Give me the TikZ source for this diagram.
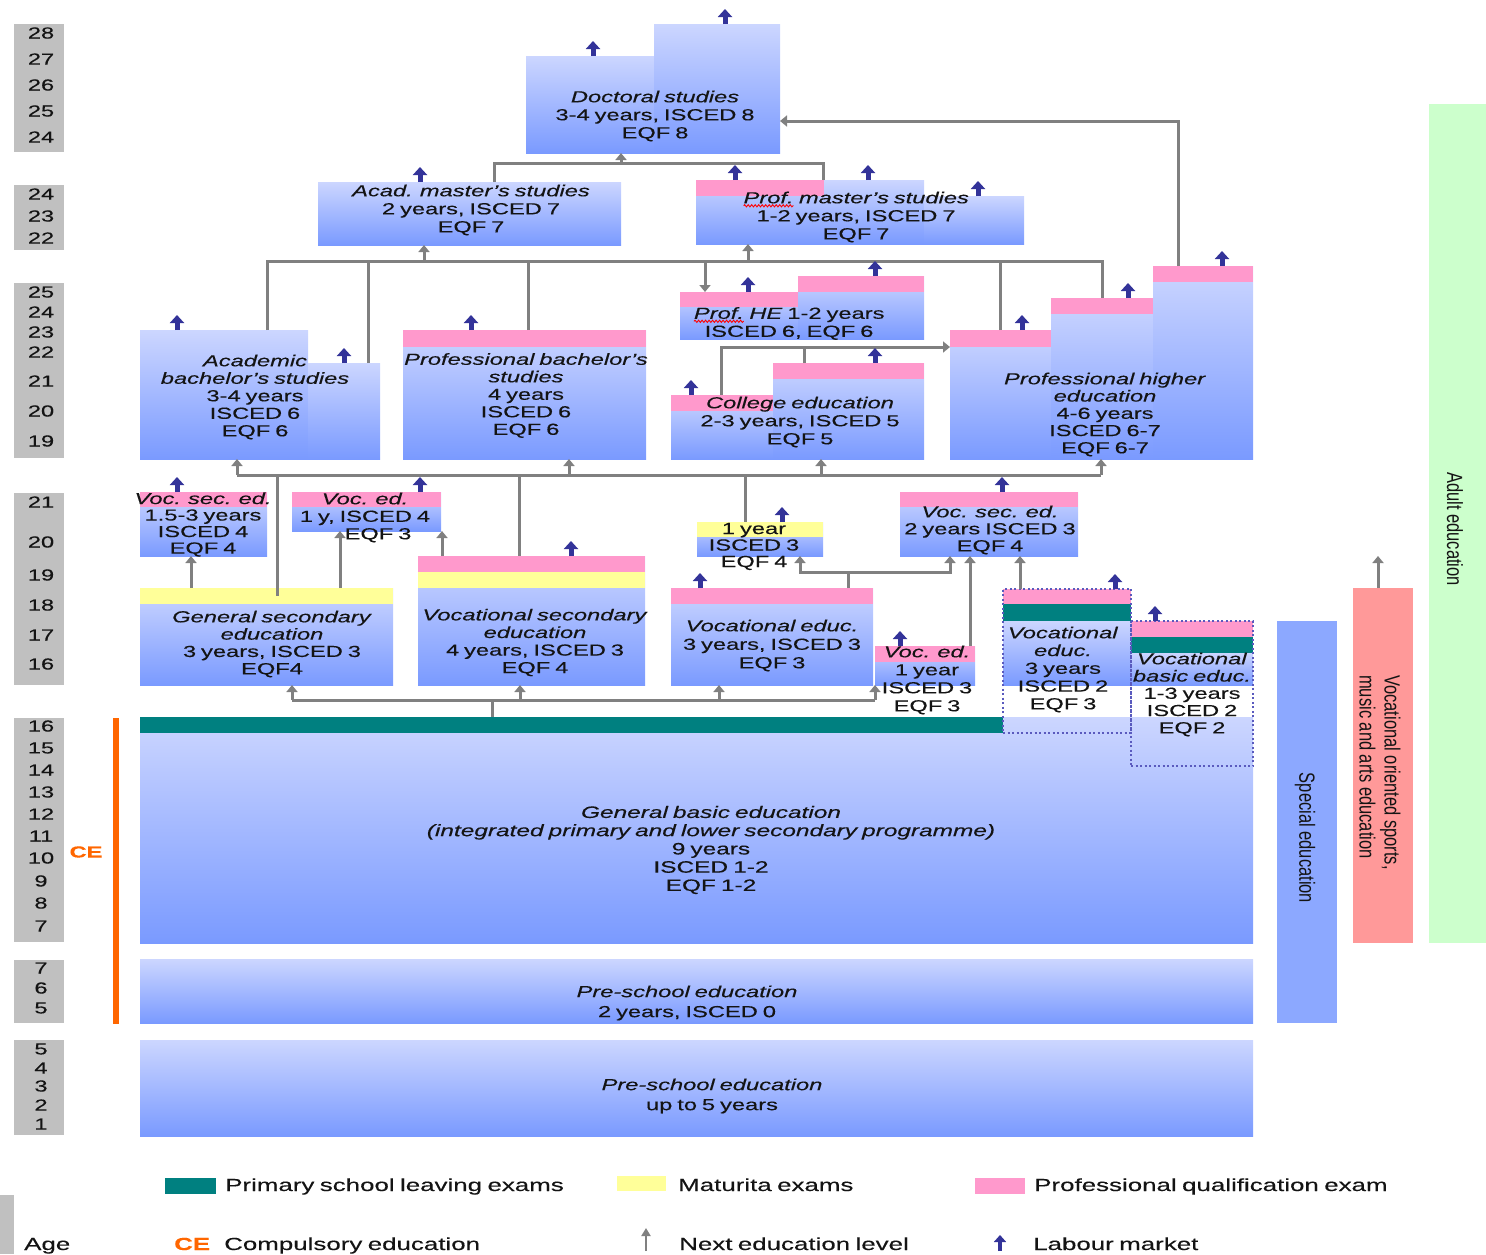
\documentclass[tikz,border=0pt]{standalone}
\usepackage{fontspec}
\setmainfont{Liberation Sans}[FakeStretch=1.48, FakeBold=0.25, WordSpace=0.75]
\newfontfamily\sidefont{Liberation Sans}[FakeStretch=0.75]
\usetikzlibrary{arrows.meta,decorations.pathmorphing}
\definecolor{boxtop}{RGB}{204,214,255}
\definecolor{boxbot}{RGB}{122,154,255}
\definecolor{pinkc}{RGB}{255,153,204}
\definecolor{yellowc}{RGB}{255,255,153}
\definecolor{tealc}{RGB}{0,128,128}
\definecolor{grayc}{RGB}{128,128,128}
\definecolor{agegray}{RGB}{192,192,192}
\definecolor{labc}{RGB}{51,51,153}
\definecolor{orangec}{RGB}{255,102,0}
\definecolor{specialc}{RGB}{140,168,255}
\definecolor{redc}{RGB}{255,153,153}
\definecolor{greenc}{RGB}{204,255,204}
\definecolor{dotc}{RGB}{90,90,190}
\definecolor{txtc}{RGB}{20,20,20}
\newcommand\ebox[5]{\node[bx, minimum width={(#4-#2)*1pt}, minimum height={(#5-#3)*1pt}] (#1) at (#2,#3) {};}
\newcommand\cbox[6]{\node[inner sep=0pt, outer sep=0pt, anchor=north west, fill=#6, minimum width={(#4-#2)*1pt}, minimum height={(#5-#3)*1pt}] (#1) at (#2,#3) {};}
\newcommand\band[5]{\fill[#1] (#2,#3) rectangle (#4,#5);}
\newcommand\lab[2]{\draw[labour] (#1,0 |- #2.north) -- ++(0,-15);}
\newcommand\agen[2]{\node[agenum] (age#1) at (41,#1) {#2};}
\newcommand\spell[1]{\tikz[baseline=(spw.base)]{\node[inner sep=0pt, outer sep=0pt, anchor=base] (spw) {#1};\draw[red, line width=0.9pt, decorate, decoration={snake, amplitude=1.1pt, segment length=3.5pt}] ([yshift=-2.5pt]spw.base west) -- ([yshift=-2.5pt]spw.base east);}}
\begin{document}
\begin{tikzpicture}[x=1pt, y=-1pt,
  bx/.style={inner sep=0pt, outer sep=0pt, anchor=north west, top color=boxtop, bottom color=boxbot},
  txt/.style={inner sep=0pt, outer sep=0pt, align=center, text=txtc, font=\fontsize{16}{18}\selectfont},
  gline/.style={draw=grayc, line width=3pt},
  conn/.style={gline, -{Triangle[width=11pt,length=7pt]}},
  labour/.style={draw=labc, line width=5pt, -{Triangle[width=14pt,length=8pt]}},
  dotbox/.style={draw=dotc, line width=2pt, dash pattern=on 2pt off 2.5pt, inner sep=0pt, outer sep=0pt, anchor=north west},
  agenum/.style={inner sep=0pt, text=txtc, font=\fontsize{16}{18}\selectfont},
  side/.style={inner sep=0pt, text=txtc, font=\sidefont\fontsize{22}{25}\selectfont, rotate=-90},
  leg/.style={inner sep=0pt, anchor=base west, text=txtc, font=\fontsize{17.5}{20}\selectfont}]
\useasboundingbox (0,0) rectangle (1486,1254);

% ---------- age column ----------
\fill[agegray] (14,24) rectangle (64,152);
\fill[agegray] (14,185) rectangle (64,250);
\fill[agegray] (14,283) rectangle (64,458);
\fill[agegray] (14,493) rectangle (64,685);
\fill[agegray] (14,718) rectangle (64,942);
\fill[agegray] (14,960) rectangle (64,1023);
\fill[agegray] (14,1040) rectangle (64,1135);
\agen{33}{28}\agen{59}{27}\agen{85}{26}\agen{111}{25}\agen{137}{24}
\agen{194}{24}\agen{216}{23}\agen{238}{22}
\agen{292}{25}\agen{312}{24}\agen{332}{23}\agen{352}{22}\agen{381}{21}\agen{411}{20}\agen{441}{19}
\agen{502}{21}\agen{542}{20}\agen{575}{19}\agen{605}{18}\agen{635}{17}\agen{664}{16}
\agen{726}{16}\agen{748}{15}\agen{770}{14}\agen{792}{13}\agen{814}{12}\agen{836}{11}\agen{858}{10}\agen{881}{9}\agen{903}{8}\agen{926}{7}
\agen{968}{7}\agen{988}{6}\agen{1008}{5}
\agen{1049}{5}\agen{1068}{4}\agen{1086}{3}\agen{1105}{2}\agen{1124}{1}
\fill[orangec] (113,718) rectangle (119,1024);
\node[inner sep=0pt, text=orangec, font=\bfseries\fontsize{16}{18}\selectfont] (ce) at (86,852) {CE};

% ---------- boxes ----------
\ebox{doca}{526}{56}{654}{153}
\ebox{docb}{654}{24}{780}{153}
\ebox{acadm}{318}{182}{621}{245}
\ebox{profma}{696}{180}{824}{244}
\ebox{profmb}{824}{180}{924}{244}
\ebox{profmc}{924}{196}{1024}{244}
\band{pinkc}{696}{180}{824}{196}
\ebox{acadba}{140}{330}{308}{459}
\ebox{acadbb}{308}{363}{380}{459}
\ebox{profb}{403}{330}{646}{459}
\band{pinkc}{403}{330}{646}{347}
\ebox{profhea}{680}{292}{798}{339}
\ebox{profheb}{798}{276}{924}{339}
\band{pinkc}{680}{292}{798}{307}
\band{pinkc}{798}{276}{924}{292}
\ebox{colla}{671}{395}{773}{459}
\ebox{collb}{773}{363}{924}{459}
\band{pinkc}{671}{395}{773}{411}
\band{pinkc}{773}{363}{924}{379}
\ebox{phea}{950}{330}{1051}{459}
\ebox{pheb}{1051}{298}{1153}{459}
\ebox{phec}{1153}{266}{1253}{459}
\band{pinkc}{950}{330}{1051}{347}
\band{pinkc}{1051}{298}{1153}{314}
\band{pinkc}{1153}{266}{1253}{282}
\ebox{vsa}{140}{492}{267}{556}
\band{pinkc}{140}{492}{267}{507}
\ebox{vea}{292}{492}{441}{531}
\band{pinkc}{292}{492}{441}{507}
\ebox{gsec}{140}{588}{393}{685}
\band{yellowc}{140}{588}{393}{604}
\ebox{vsec}{418}{556}{645}{685}
\band{pinkc}{418}{556}{645}{572}
\band{yellowc}{418}{572}{645}{588}
\ebox{oney}{697}{522}{823}{556}
\band{yellowc}{697}{522}{823}{537}
\ebox{vsb}{900}{492}{1078}{556}
\band{pinkc}{900}{492}{1078}{507}
\ebox{vethree}{671}{588}{873}{685}
\band{pinkc}{671}{588}{873}{604}
\ebox{veb}{875}{646}{975}{685}
\band{pinkc}{875}{646}{975}{662}
\ebox{gbe}{140}{717}{1253}{943}
\band{tealc}{140}{717}{1003}{733}
\ebox{pretwo}{140}{959}{1253}{1023}
\ebox{prefive}{140}{1040}{1253}{1136}
% dotted programmes
\band{pinkc}{1003}{589}{1131}{604}
\band{tealc}{1003}{604}{1131}{621}
\ebox{vetwoin}{1003}{621}{1131}{685}
\band{pinkc}{1131}{621}{1253}{637}
\band{tealc}{1131}{637}{1253}{653}
\ebox{vbein}{1131}{653}{1253}{685}
\node[dotbox, minimum width=128pt, minimum height=144pt] (vetwo) at (1003,589) {};
\node[dotbox, minimum width=122pt, minimum height=145pt] (vbe) at (1131,621) {};

% side bars
\cbox{special}{1277}{621}{1337}{1023}{specialc}
\cbox{voar}{1353}{588}{1413}{943}{redc}
\cbox{adult}{1429}{104}{1486}{943}{greenc}

% ---------- connectors ----------
\coordinate (jM) at (621,163);
\draw[gline] (494,0 |- acadm.north) |- (823,0 |- jM) -- (823,0 |- profma.north);
\draw[conn] (jM) -- (jM |- doca.south);
\coordinate (jB) at (705,261);
\draw[gline] (267,0 |- acadba.north) |- (1102,0 |- jB) -- (1102,0 |- pheb.north);
\draw[gline] (368,0 |- acadbb.north) -- (368,0 |- jB);
\draw[gline] (528,0 |- profb.north) -- (528,0 |- jB);
\draw[gline] (1000,0 |- phea.north) -- (1000,0 |- jB);
\draw[conn] (424,0 |- jB) -- (424,0 |- acadm.south);
\draw[conn] (748,0 |- jB) -- (748,0 |- profma.south);
\draw[conn] (jB) -- (jB |- profhea.north);
\draw[conn] (1178,0 |- phec.north) |- (docb.east |- 0,121);
\coordinate (jC) at (721,347);
\draw[conn] (jC |- colla.north) |- (phea.west |- jC);
\draw[gline] (804,0 |- collb.north) -- (804,0 |- jC);
\coordinate (jS) at (745,475);
\draw[gline] (237,0 |- jS) -- (1101,0 |- jS);
\draw[conn] (237,0 |- jS) -- (237,0 |- acadba.south);
\draw[conn] (569,0 |- jS) -- (569,0 |- profb.south);
\draw[conn] (821,0 |- jS) -- (821,0 |- collb.south);
\draw[conn] (1101,0 |- jS) -- (1101,0 |- pheb.south);
\draw[gline] (277,0 |- jS) -- (277,0 |- gsec.north) -- ++(0,8);
\draw[gline] (519,0 |- jS) -- (519,0 |- vsec.north);
\draw[gline] (jS) -- (jS |- oney.north);
\draw[conn] (191,0 |- gsec.north) -- (191,0 |- vsa.south);
\draw[conn] (340,0 |- gsec.north) -- (340,0 |- vea.south);
\draw[conn] (442,0 |- vsec.north) -- (442,0 |- vea.south);
\coordinate (jV) at (848,572);
\draw[gline] (jV |- vethree.north) -- (jV);
\draw[conn] (jV) -| (800,0 |- oney.south);
\draw[conn] (jV) -| (950,0 |- vsb.south);
\draw[conn] (970,0 |- veb.north) -- (970,0 |- vsb.south);
\draw[conn] (1020,0 |- vetwo.north) -- (1020,0 |- vsb.south);
\coordinate (jG) at (492,700);
\draw[gline] (jG |- gbe.north) -- (jG);
\draw[gline] (292,0 |- jG) -- (875,0 |- jG);
\draw[conn] (292,0 |- jG) -- (292,0 |- gsec.south);
\draw[conn] (520,0 |- jG) -- (520,0 |- vsec.south);
\draw[conn] (719,0 |- jG) -- (719,0 |- vethree.south);
\draw[conn] (875,0 |- jG) -- (875,0 |- veb.south);
\draw[conn] (1378,0 |- voar.north) -- ++(0,-32);

% ---------- labour market arrows ----------
\lab{593}{doca}\lab{725}{docb}\lab{420}{acadm}\lab{735}{profma}\lab{868}{profmb}\lab{978}{profmc}
\lab{177}{acadba}\lab{344}{acadbb}\lab{471}{profb}\lab{748}{profhea}\lab{875}{profheb}
\lab{691}{colla}\lab{875}{collb}\lab{1022}{phea}\lab{1128}{pheb}\lab{1222}{phec}
\lab{177}{vsa}\lab{420}{vea}\lab{571}{vsec}\lab{782}{oney}\lab{1002}{vsb}
\lab{700}{vethree}\lab{900}{veb}\lab{1115}{vetwo}\lab{1155}{vbe}

% ---------- texts ----------
\node[txt] (tdoc) at (655,116) {\textit{Doctoral studies}\\3-4 years, ISCED 8\\EQF 8};
\node[txt] (tacadm) at (471,210) {\textit{Acad. master's studies}\\2 years, ISCED 7\\EQF 7};
\node[txt] (tprofm) at (856,217) {\textit{\spell{Prof.} master's studies}\\1-2 years, ISCED 7\\EQF 7};
\node[txt, font=\fontsize{16}{17.5}\selectfont] (tacadb) at (255,397) {\textit{Academic}\\\textit{bachelor's studies}\\3-4 years\\ISCED 6\\EQF 6};
\node[txt, font=\fontsize{16}{17.5}\selectfont] (tprofb) at (526,395.5) {\textit{Professional bachelor's}\\\textit{studies}\\4 years\\ISCED 6\\EQF 6};
\node[txt] (tprofhe) at (789,323.5) {\textit{\spell{Prof.} HE} 1-2 years\\ISCED 6, EQF 6};
\node[txt] (tcoll) at (800,422) {\textit{College education}\\2-3 years, ISCED 5\\EQF 5};
\node[txt, font=\fontsize{16}{17.25}\selectfont] (tphe) at (1105,414.5) {\textit{Professional higher}\\\textit{education}\\4-6 years\\ISCED 6-7\\EQF 6-7};
\node[txt, font=\fontsize{16}{16.5}\selectfont] (tvsa) at (203,524.5) {\textit{Voc. sec. ed.}\\1.5-3 years\\ISCED 4\\EQF 4};
\node[txt, font=\fontsize{16}{17.5}\selectfont] (tvea) at (365,517.5) {\textit{Voc. ed.}\\1 y, ISCED 4\\\hspace*{26pt}EQF 3};
\node[txt, font=\fontsize{16}{17.3}\selectfont] (tgsec) at (272,644) {\textit{General secondary}\\\textit{education}\\3 years, ISCED 3\\EQF4};
\node[txt, font=\fontsize{16}{17.6}\selectfont] (tvsec) at (535,642.5) {\textit{Vocational secondary}\\\textit{education}\\4 years, ISCED 3\\EQF 4};
\node[txt, font=\fontsize{16}{16.5}\selectfont] (toney) at (754,546.5) {1 year\\ISCED 3\\EQF 4};
\node[txt, font=\fontsize{16}{17}\selectfont] (tvsb) at (990,530) {\textit{Voc. sec. ed.}\\2 years ISCED 3\\EQF 4};
\node[txt, font=\fontsize{16}{18.5}\selectfont] (tvethree) at (772,645.5) {\textit{Vocational educ.}\\3 years, ISCED 3\\EQF 3};
\node[txt, font=\fontsize{16}{18}\selectfont] (tveb) at (927,680) {\textit{Voc. ed.}\\1 year\\ISCED 3\\EQF 3};
\node[txt, font=\fontsize{16}{17.75}\selectfont] (tvetwo) at (1063,669.5) {\textit{Vocational}\\\textit{educ.}\\3 years\\ISCED 2\\EQF 3};
\node[txt, font=\fontsize{16}{17.25}\selectfont] (tvbe) at (1192,694.5) {\textit{Vocational}\\\textit{basic educ.}\\1-3 years\\ISCED 2\\EQF 2};
\node[txt, font=\fontsize{16.5}{18.25}\selectfont] (tgbe) at (711,850) {\textit{General basic education}\\\textit{(integrated primary and lower secondary programme)}\\9 years\\ISCED 1-2\\EQF 1-2};
\node[txt, font=\fontsize{16}{20}\selectfont] (tpretwo) at (687,1003) {\textit{Pre-school education}\\2 years, ISCED 0};
\node[txt, font=\fontsize{16}{20}\selectfont] (tprefive) at (712,1096) {\textit{Pre-school education}\\up to 5 years};
\node[side] (tspecial) at (1305,838) {Special education};
\node[side, anchor=west, align=left] (tvoar) at (1380,675) {Vocational oriented sports,\\music and arts education};
\node[side] (tadult) at (1455,529) {Adult education};

% ---------- legend ----------
\fill[tealc] (165,1178) rectangle (216,1194);
\node[leg] (lg1) at (225,1191) {Primary school leaving exams};
\fill[yellowc] (617,1176) rectangle (666,1191);
\node[leg] (lg2) at (678,1191) {Maturita exams};
\fill[pinkc] (975,1178) rectangle (1025,1194);
\node[leg] (lg3) at (1034,1191) {Professional qualification exam};
\fill[agegray] (0,1195) rectangle (14,1254);
\node[leg] (lg4) at (24,1250) {Age};
\node[leg, text=orangec, font=\bfseries\fontsize{17.5}{20}\selectfont] (lg5) at (174,1250) {CE};
\node[leg] (lg6) at (224,1250) {Compulsory education};
\coordinate (lga) at (646,1251);
\draw[draw=grayc, line width=2.5pt, -{Triangle[width=9pt,length=8pt]}] (lga) -- ++(0,-23);
\node[leg] (lg7) at (679,1250) {Next education level};
\coordinate (lgb) at (1000,1251);
\draw[draw=labc, line width=4pt, -{Triangle[width=12pt,length=7pt]}] (lgb) -- ++(0,-16);
\node[leg] (lg8) at (1033,1250) {Labour market};
\end{tikzpicture}
\end{document}
